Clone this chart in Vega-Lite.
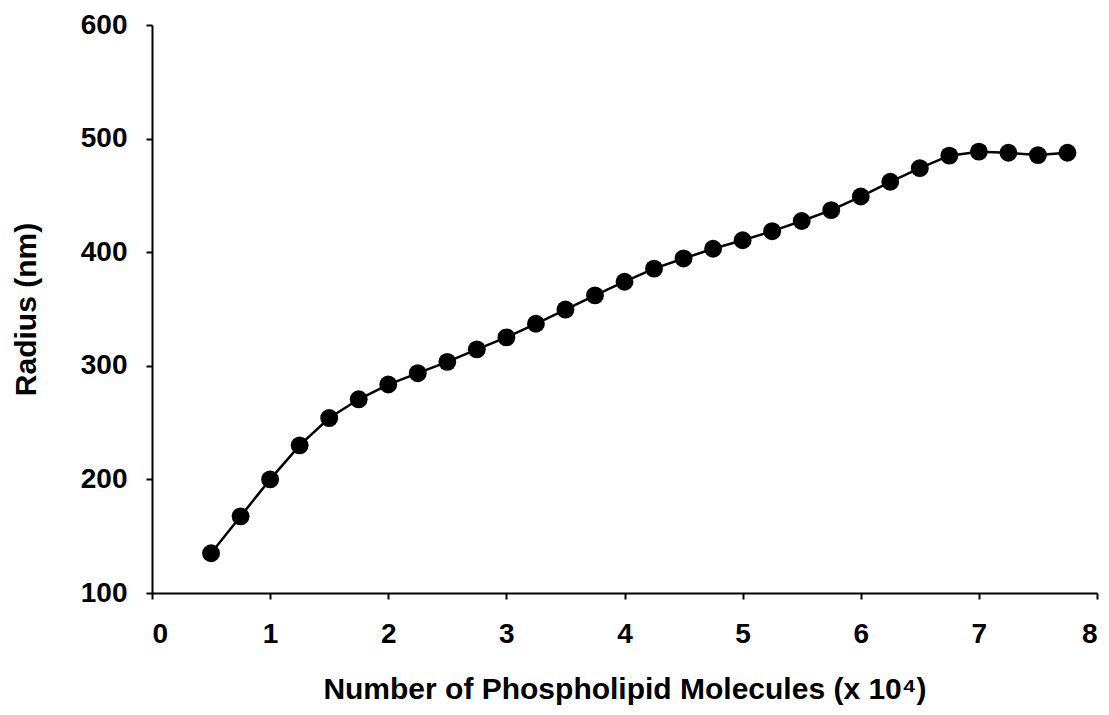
{
  "$schema": "https://vega.github.io/schema/vega-lite/v6.json",
  "width": 945,
  "height": 568,
  "autosize": {"type": "none"},
  "padding": {"left": 152, "top": 25, "right": 12, "bottom": 122},
  "background": "white",
  "config": {
    "view": {"stroke": null},
    "font": "Liberation Sans",
    "axis": {
      "grid": false,
      "domainColor": "black",
      "domainWidth": 2,
      "tickColor": "black",
      "tickWidth": 2,
      "tickSize": 6,
      "labelFont": "Liberation Sans",
      "labelFontWeight": "bold",
      "labelFontSize": 28,
      "labelColor": "black",
      "titleFont": "Liberation Sans",
      "titleFontWeight": "bold",
      "titleFontSize": 30,
      "titleColor": "black"
    }
  },
  "data": {
    "values": [
      {"n": 0.5, "r": 135},
      {"n": 0.75, "r": 167.5},
      {"n": 1.0, "r": 200},
      {"n": 1.25, "r": 230},
      {"n": 1.5, "r": 254},
      {"n": 1.75, "r": 270.5},
      {"n": 2.0, "r": 283.5},
      {"n": 2.25, "r": 293.5},
      {"n": 2.5, "r": 303.5},
      {"n": 2.75, "r": 314.5},
      {"n": 3.0, "r": 325},
      {"n": 3.25, "r": 337},
      {"n": 3.5, "r": 349.5},
      {"n": 3.75, "r": 362},
      {"n": 4.0, "r": 374},
      {"n": 4.25, "r": 385.5},
      {"n": 4.5, "r": 394.5},
      {"n": 4.75, "r": 403},
      {"n": 5.0, "r": 410.5},
      {"n": 5.25, "r": 418.5},
      {"n": 5.5, "r": 427.5},
      {"n": 5.75, "r": 437},
      {"n": 6.0, "r": 449},
      {"n": 6.25, "r": 462},
      {"n": 6.5, "r": 474},
      {"n": 6.75, "r": 485},
      {"n": 7.0, "r": 488.5},
      {"n": 7.25, "r": 487.5},
      {"n": 7.5, "r": 485.5},
      {"n": 7.75, "r": 487.5}
    ]
  },
  "encoding": {
    "x": {
      "field": "n",
      "type": "quantitative",
      "scale": {"domain": [0, 8], "nice": false, "zero": false},
      "axis": {
        "values": [0, 1, 2, 3, 4, 5, 6, 7, 8],
        "format": "d",
        "labelPadding": 21,
        "titlePadding": 26,
        "title": "Number of Phospholipid Molecules (x 10⁴)"
      }
    },
    "y": {
      "field": "r",
      "type": "quantitative",
      "scale": {"domain": [100, 600], "nice": false, "zero": false},
      "axis": {
        "values": [100, 200, 300, 400, 500, 600],
        "labelPadding": 19,
        "titlePadding": 39,
        "title": "Radius (nm)"
      }
    }
  },
  "layer": [
    {"mark": {"type": "line", "color": "black", "strokeWidth": 2.5}},
    {"mark": {"type": "point", "shape": "circle", "filled": true, "color": "black", "opacity": 1, "size": 320}}
  ]
}
